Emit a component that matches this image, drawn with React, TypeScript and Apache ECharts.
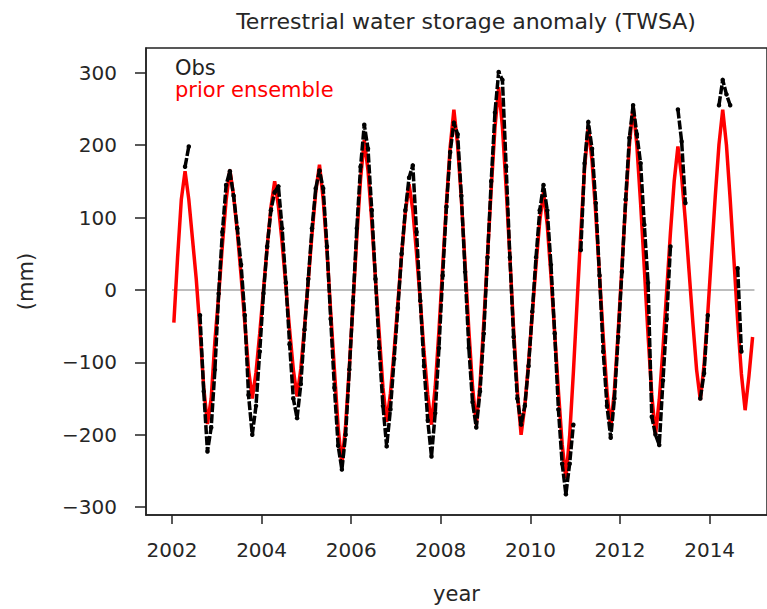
import React, { useEffect, useRef } from "react";
import * as echarts from "echarts";

const startYear = 2002;
const yearTicks = [2002, 2004, 2006, 2008, 2010, 2012, 2014];
const valueTicks = [-300, -200, -100, 0, 100, 200, 300];

// monthly prior ensemble TWSA (mm), Jan 2002 - Dec 2014
const priorEnsemble = [
  -45, 45, 125, 164, 125, 70, 15, -55, -135, -185, -150, -70,
  -8, 62, 124, 166, 130, 80, 20, -45, -110, -150, -114, -60,
  0, 60, 114, 150, 116, 65, 5, -55, -110, -147, -109, -51,
  13, 77, 135, 173, 125, 55, -30, -110, -190, -241, -187, -107,
  -17, 73, 153, 207, 165, 95, 15, -60, -135, -182, -143, -84,
  -18, 48, 107, 146, 110, 50, -15, -85, -145, -186, -134, -56,
  32, 119, 197, 249, 200, 125, 35, -55, -134, -186, -130, -46,
  47, 140, 224, 280, 225, 140, 45, -55, -140, -200, -160, -100,
  -33, 35, 95, 135, 90, 20, -60, -140, -213, -260, -202, -114,
  -17, 80, 168, 226, 178, 105, 20, -65, -140, -191, -138, -58,
  31, 120, 200, 253, 200, 120, 30, -62, -145, -200, -152, -81,
  -1, 79, 150, 198, 156, 95, 25, -45, -110, -152, -104, -32,
  49, 129, 201, 249, 200, 125, 42, -42, -116, -166, -120, -65,
];

// monthly observed TWSA (mm), null = no observation
const obs = [
  null, null, null, 170, 198, null, null, -35, -140, -223, -190, -110,
  -5, 80, 145, 164, 130, 85, 35, -35, -145, -200, -160, -85,
  -5, 60, 110, 135, 143, 85, 10, -75, -150, -177, -130, -55,
  15, 85, 140, 165, 140, 60, -40, -135, -215, -248, -200, -110,
  -15, 85, 170, 228, 195, 110, 15, -80, -160, -216, -165, -95,
  -25, 50, 110, 155, 172, 80, -15, -105, -180, -230, -170, -80,
  20, 115, 190, 231, 215, 130, 25, -80, -155, -190, -140, -60,
  45, 150, 245, 301, 290, 170, 45, -65, -150, -186, -160, -105,
  -30, 45, 110, 145, 110, 35, -60, -165, -240, -282, -240, -186,
  null, 55, 175, 232, 195, 120, 20, -85, -160, -204, -150, -65,
  25, 125, 210, 255, 215, 175, 90, 10, -175, -200, -214, -125,
  -40, 60, null, 249, 205, 120, null, null, null, -150, -115, -35,
  null, null, 255, 290, 270, 255, null, 30, -85, null, null, null,
];

const zeroLine = [
  [2002, 0],
  [2015, 0],
];

const FONT = "DejaVu Sans";
const INK = "#262626";

export default function App() {
  const ref = useRef<HTMLDivElement>(null);

  useEffect(() => {
    if (!ref.current) return;
    const chart = echarts.init(ref.current, null, { renderer: "svg" });
    const t = (i: number) => startYear + (i + 0.5) / 12;
    const redData = priorEnsemble.map((v, i) => [t(i), v]);
    const blackData = obs.map((v, i) => [t(i), v === null ? "-" : v]);

    chart.setOption({
      animation: false,
      backgroundColor: "#ffffff",
      textStyle: { fontFamily: FONT },
      title: {
        text: "Terrestrial water storage anomaly (TWSA)",
        left: 461,
        textAlign: "center",
        top: 5,
        textStyle: { fontFamily: FONT, fontSize: 22, fontWeight: "normal", color: INK },
      },
      legend: {
        orient: "vertical",
        left: 165,
        top: 52,
        itemWidth: 0,
        itemHeight: 0,
        itemGap: 0,
        icon: "none",
        selectedMode: false,
        textStyle: { fontFamily: FONT, fontSize: 21, lineHeight: 22 },
        data: [
          { name: "Obs", icon: "none", textStyle: { color: "#222" } },
          { name: "prior ensemble", icon: "none", textStyle: { color: "#ff0000" } },
        ],
      },
      grid: {
        left: 146,
        top: 48,
        right: -2,
        bottom: 91,
        show: true,
        borderColor: "#222",
        borderWidth: 1.5,
        backgroundColor: "transparent",
      },
      xAxis: {
        type: "value",
        min: 2001.42,
        max: 2015.28,
        name: "year",
        nameLocation: "middle",
        nameGap: 68,
        nameTextStyle: { fontFamily: FONT, fontSize: 21, color: INK },
        axisLine: { show: true, onZero: false, lineStyle: { color: "#222", width: 1.5 } },
        axisTick: { show: true, length: 9, lineStyle: { color: "#222", width: 1.5 }, customValues: yearTicks },
        axisLabel: { fontFamily: FONT, fontSize: 20, color: INK, margin: 25, customValues: yearTicks, formatter: (v: number) => String(v) },
        splitLine: { show: false },
      },
      yAxis: {
        type: "value",
        min: -310.7,
        max: 334,
        name: "(mm)",
        nameLocation: "middle",
        nameGap: 110,
        nameRotate: 90,
        nameTextStyle: { fontFamily: FONT, fontSize: 21, color: INK },
        axisLine: { show: true, onZero: false, lineStyle: { color: "#222", width: 1.5 } },
        axisTick: { show: true, length: 11, lineStyle: { color: "#222", width: 1.5 }, customValues: valueTicks },
        axisLabel: {
          fontFamily: FONT,
          fontSize: 20,
          color: INK,
          margin: 29,
          customValues: valueTicks,
          formatter: (v: number) => (v < 0 ? "\u2212" + Math.abs(v) : String(v)),
        },
        splitLine: { show: false },
      },
      series: [
        {
          name: "zero",
          type: "line",
          data: zeroLine,
          symbol: "none",
          lineStyle: { color: "#bdbdbd", width: 2 },
          z: 1,
          silent: true,
        },
        {
          name: "prior ensemble",
          type: "line",
          data: redData,
          symbol: "none",
          lineStyle: { color: "#ff0000", width: 3.5 },
          itemStyle: { color: "#ff0000" },
          z: 2,
        },
        {
          name: "Obs",
          type: "line",
          data: blackData,
          connectNulls: false,
          showSymbol: true,
          symbol: "circle",
          symbolSize: 4.5,
          lineStyle: { color: "#000", width: 3.5, type: [9, 2] },
          itemStyle: { color: "#000" },
          z: 3,
        },
      ],
    });
    return () => chart.dispose();
  }, []);

  return (
    <div
      ref={ref}
      style={{ position: "fixed", left: 0, top: 0, width: 767, height: 609, background: "#fff" }}
    />
  );
}
